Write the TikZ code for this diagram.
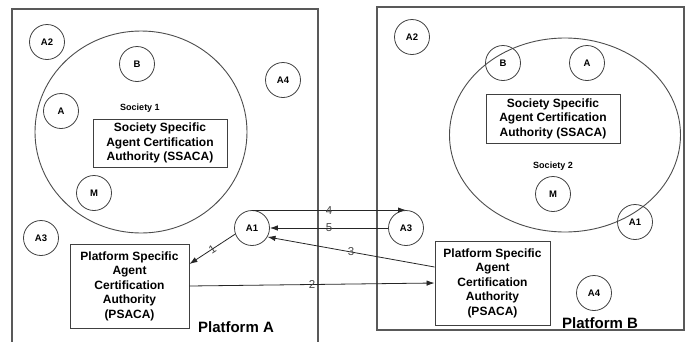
\documentclass[tikz,border=0pt]{standalone}
\usepackage{fontspec}
\setmainfont{Liberation Sans}
\usetikzlibrary{arrows.meta,shapes.geometric}
\begin{document}
\begin{tikzpicture}[x=1pt,y=-1pt,
  agent/.style={circle,draw=black!75,line width=0.8pt,minimum size=35pt,inner sep=0pt,
    font=\bfseries\fontsize{9.5}{11}\selectfont},
  cabox/.style={draw=black!75,line width=0.9pt,align=center,inner sep=0pt,
    font=\bfseries\fontsize{12}{14.6}\selectfont},
  platform/.style={rectangle,draw=black!65,line width=1.3pt,inner sep=0pt},
  society/.style={ellipse,draw=black!70,line width=0.9pt,inner sep=0pt},
  soclabel/.style={font=\bfseries\fontsize{9}{10}\selectfont,inner sep=0pt},
  pflabel/.style={font=\bfseries\fontsize{15}{16}\selectfont,inner sep=0pt},
  msg/.style={draw=black!85,line width=0.8pt,-{Latex[length=8pt,width=5.5pt]}},
  num/.style={text=black!72,font=\fontsize{11.5}{12}\selectfont,inner sep=0pt}
]
\useasboundingbox (0,0) rectangle (697,341);

% platforms
\begin{scope}
  \clip (0,0) rectangle (697,341);
  \node[platform,minimum width=306pt,minimum height=345pt] (platA) at (165,181.5) {};
\end{scope}
\node[platform,minimum width=307pt,minimum height=323pt] (platB) at (530.5,168.5) {};
\node[pflabel] (platAlbl) at (236,327) {Platform A};
\node[pflabel] (platBlbl) at (600,323) {Platform B};

% societies
\node[society,minimum width=212pt,minimum height=202pt] (soc1) at (141,132) {};
\node[society,minimum width=231pt,minimum height=194pt] (soc2) at (565,135) {};
\node[soclabel] (soc1lbl) at (140,108) {Society 1};
\node[soclabel] (soc2lbl) at (553,166) {Society 2};

% certification authorities
\node[cabox,minimum width=134pt,minimum height=48pt] (ssacaA) at (160,143)
  {Society Specific\\Agent Certification\\Authority (SSACA)};
\node[cabox,minimum width=134pt,minimum height=49pt] (ssacaB) at (553,118.5)
  {Society Specific\\Agent Certification\\Authority (SSACA)};
\node[cabox,minimum width=119pt,minimum height=84pt,font=\bfseries\fontsize{12}{14.5}\selectfont] (psacaA) at (129.5,286)
  {Platform Specific\\Agent\\Certification\\Authority\\(PSACA)};
\node[cabox,minimum width=115pt,minimum height=84pt,font=\bfseries\fontsize{12}{14.5}\selectfont] (psacaB) at (492.5,283)
  {Platform Specific\\Agent\\Certification\\Authority\\(PSACA)};

% agents on platform A
\node[agent] (aA2) at (47,42) {A2};
\node[agent] (aB) at (137,64) {B};
\node[agent] (aA4) at (283,80) {A4};
\node[agent] (aA) at (61,111) {A};
\node[agent] (aM) at (94,193) {M};
\node[agent] (aA3) at (41,238) {A3};
\node[agent] (aA1) at (252,228) {A1};

% agents on platform B
\node[agent] (bA2) at (412,37) {A2};
\node[agent] (bB) at (503,63) {B};
\node[agent] (bA) at (587,63) {A};
\node[agent] (bM) at (553,194) {M};
\node[agent] (bA1) at (635,222) {A1};
\node[agent] (bA3) at (406,228) {A3};
\node[agent] (bA4) at (594,293) {A4};

% messages
\draw[msg] (aA1.200) -- node[num,sloped] {1} ([yshift=22pt]psacaA.east);
\draw[msg] (psacaA.east) -- node[num] {2} (psacaB.west);
\draw[msg] ([yshift=16pt]psacaB.west) -- node[num] {3} (aA1.-30);
\draw[msg] (aA1.north) -- node[num] {4} (bA3.north);
\draw[msg] (bA3.west) -- node[num] {5} (aA1.east);
\end{tikzpicture}
\end{document}
